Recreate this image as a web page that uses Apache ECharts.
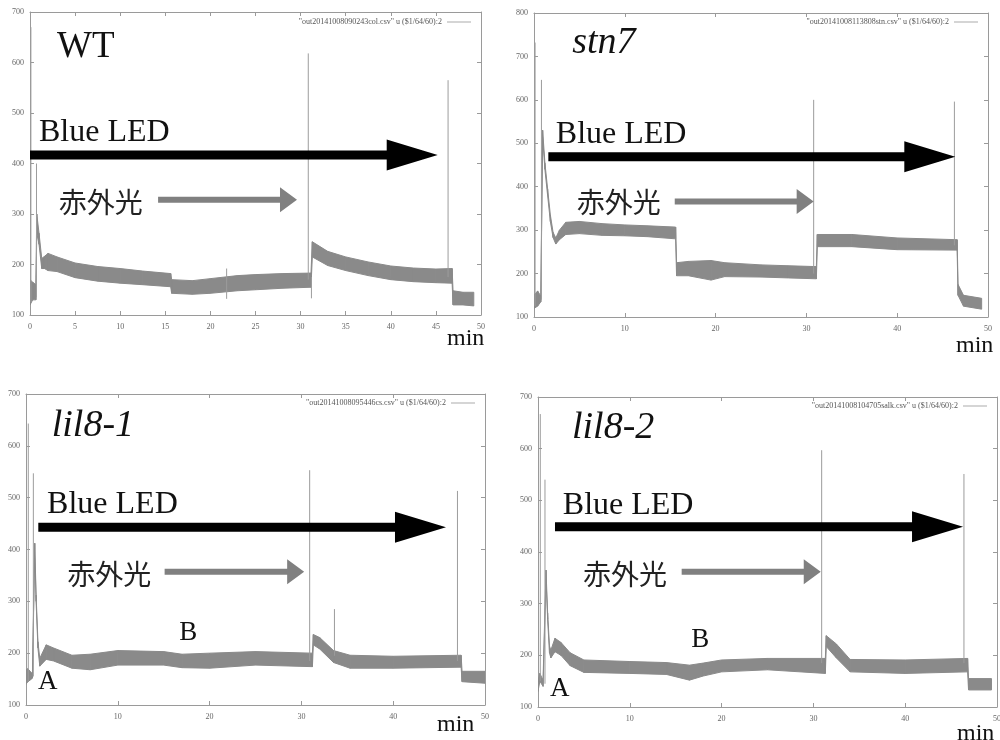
<!DOCTYPE html>
<html>
<head>
<meta charset="utf-8">
<script src="https://cdn.jsdelivr.net/npm/echarts@6/dist/echarts.min.js"></script>
<style>html,body{margin:0;background:#fff}#main{width:1000px;height:740px}</style>
</head>
<body>
<div id="main"></div>
<script>
// signal traces: time (min), lower / upper edge of the noisy band
var wtTime = [0, 0.3, 0.65, 0.75, 1.0, 1.3, 1.6, 2, 3, 5, 7.5, 10, 12.5, 15.6, 15.7, 18, 20, 23, 25, 28, 31.15, 31.3, 33, 35, 37.5, 40, 42.5, 45, 46.8, 46.9, 48, 49.2];
var wtLow  = [120, 130, 130, 262, 240, 192, 192, 188, 186, 174, 167, 163, 160, 156, 143, 141, 143, 148, 150, 153, 155, 215, 198, 188, 178, 170, 166, 164, 163, 120, 120, 118];
var wtHigh = [170, 165, 160, 300, 262, 212, 216, 222, 215, 203, 196, 192, 187, 182, 170, 168, 172, 178, 180, 182, 183, 245, 226, 215, 205, 197, 193, 191, 192, 148, 145, 145];
// [time, from, to] thin vertical spikes
var wtSpikes = [[0.1, 125, 670], [0.72, 135, 400], [21.8, 132, 192], [30.85, 170, 618], [31.2, 133, 175], [46.35, 175, 565]];

var stnTime = [0, 0.4, 0.75, 0.95, 1.2, 1.5, 1.8, 2.1, 2.4, 2.8, 3.5, 5, 7.5, 10, 12.5, 15.6, 15.7, 17, 19.5, 21, 25, 28, 31.1, 31.2, 35, 40, 46.6, 46.7, 47.3, 49.3];
var stnLow  = [120, 125, 135, 515, 440, 380, 320, 283, 268, 278, 290, 292, 288, 287, 285, 280, 195, 195, 185, 193, 192, 190, 188, 262, 262, 255, 254, 150, 125, 118];
var stnHigh = [150, 160, 148, 530, 455, 395, 335, 295, 282, 300, 318, 320, 315, 312, 310, 307, 225, 228, 230, 225, 220, 218, 216, 290, 290, 282, 278, 175, 150, 143];
var stnSpikes = [[0.12, 125, 732], [0.82, 140, 646], [30.8, 200, 600], [46.3, 265, 596]];

var lil1Time = [0, 0.2, 0.6, 0.7, 0.95, 1.1, 1.3, 1.5, 2.2, 3, 5, 7, 10, 15, 17, 20, 25, 31.2, 31.3, 32, 33.5, 35.3, 40, 47.4, 47.5, 50];
var lil1Low  = [140, 145, 150, 152, 400, 300, 210, 175, 188, 185, 171, 168, 177, 177, 172, 171, 177, 174, 216, 208, 182, 171, 171, 173, 145, 142];
var lil1High = [168, 170, 162, 160, 412, 312, 222, 190, 216, 210, 196, 198, 205, 203, 198, 200, 203, 200, 236, 230, 205, 196, 194, 196, 165, 165];
var lil1Spikes = [[0.25, 145, 643], [0.8, 155, 547], [30.9, 185, 553], [33.6, 195, 285], [47.0, 185, 513]];

var lil2Time = [0, 0.2, 0.55, 0.87, 1.05, 1.25, 1.4, 1.85, 2.5, 3.5, 5, 10, 14, 16.5, 18, 20, 25, 31.3, 31.4, 32.5, 34, 40, 46.8, 46.9, 49.4];
var lil2Low  = [130, 150, 140, 350, 270, 205, 195, 207, 200, 180, 167, 165, 163, 152, 160, 168, 172, 165, 217, 195, 168, 165, 168, 133, 133];
var lil2High = [150, 165, 152, 365, 282, 218, 210, 233, 225, 205, 191, 188, 186, 181, 185, 191, 194, 194, 238, 222, 192, 191, 194, 155, 155];
var lil2Spikes = [[0.25, 150, 667], [0.76, 145, 540], [30.9, 185, 597], [46.4, 185, 551]];

var fileNames = [
    '"out20141008090243col.csv" u ($1/64/60):2',
    '"out20141008113808stn.csv" u ($1/64/60):2',
    '"out20141008095446cs.csv" u ($1/64/60):2',
    '"out20141008104705salk.csv" u ($1/64/60):2'
];

var serif = '"Liberation Serif", "DejaVu Serif", serif';
var cjk = '"Noto Sans CJK JP", "Noto Sans CJK SC", sans-serif';
var gray = '#8a8a8a';
var boxColor = '#9a9a9a';

var panels = [
    { title: 'WT', italic: false, time: wtTime, low: wtLow, high: wtHigh, spikes: wtSpikes,
      yMax: 700, xStep: 5, grid: { left: 30, top: 12, width: 451, height: 303 },
      legend: { right: 529, top: 18 }, minOff: [-34, 32],
      blue: [0, 45.2, 417], red: [14.2, 29.6, 328],
      texts: [['Blue LED', 1.0, 441, 'led'], ['赤外光', 3.2, 324, 'ir']], titlePos: [3.0, 607] },
    { title: 'stn7', italic: true, time: stnTime, low: stnLow, high: stnHigh, spikes: stnSpikes,
      yMax: 800, xStep: 10, grid: { left: 534, top: 13, width: 454, height: 304 },
      legend: { right: 22, top: 18 }, minOff: [-32, 37],
      blue: [1.58, 46.4, 469], red: [15.5, 30.8, 366],
      texts: [['Blue LED', 2.4, 496, 'led'], ['赤外光', 4.7, 363, 'ir']], titlePos: [4.2, 704] },
    { title: 'lil8-1', italic: true, time: lil1Time, low: lil1Low, high: lil1High, spikes: lil1Spikes,
      yMax: 700, xStep: 10, grid: { left: 26, top: 394, width: 459, height: 311 },
      legend: { right: 525, top: 399 }, minOff: [-48, 28],
      blue: [1.34, 45.75, 443], red: [15.1, 30.3, 357],
      texts: [['Blue LED', 2.3, 467, 'led'], ['赤外光', 4.5, 353, 'ir'], ['A', 1.3, 127, 'ab'], ['B', 16.7, 222, 'ab']],
      titlePos: [2.8, 615] },
    { title: 'lil8-2', italic: true, time: lil2Time, low: lil2Low, high: lil2High, spikes: lil2Spikes,
      yMax: 700, xStep: 10, grid: { left: 538, top: 397, width: 459, height: 310 },
      legend: { right: 13, top: 402 }, minOff: [-40, 35],
      blue: [1.85, 46.3, 449], red: [15.65, 30.8, 362],
      texts: [['Blue LED', 2.7, 471, 'led'], ['赤外光', 4.9, 357, 'ir'], ['A', 1.3, 117, 'ab'], ['B', 16.7, 212, 'ab']],
      titlePos: [3.7, 616] }
];

var chart = echarts.init(document.getElementById('main'));

// band between low and high edges, one quad per pair of neighbouring samples
function bandRenderer(p) {
    return function (params, api) {
        var k = params.dataIndex;
        if (k >= p.time.length - 1) return null;
        var a = api.coord([p.time[k], p.low[k]]);
        var b = api.coord([p.time[k + 1], p.low[k + 1]]);
        var c = api.coord([p.time[k + 1], p.high[k + 1]]);
        var d = api.coord([p.time[k], p.high[k]]);
        return {
            type: 'polygon',
            shape: { points: [a, b, c, d] },
            style: { fill: gray, stroke: gray, lineWidth: 1 }
        };
    };
}

var grids = [], xAxes = [], yAxes = [], series = [], legends = [];
panels.forEach(function (p, i) {
    grids.push(Object.assign({ containLabel: false, outerBoundsMode: 'none' }, p.grid));
    var tick = { show: true, inside: true, length: 4, lineStyle: { color: boxColor } };
    var line = { show: true, onZero: false, lineStyle: { color: boxColor, width: 1 } };
    var label = { fontSize: 8, fontFamily: serif, color: '#666', margin: 8 };
    // bottom + mirrored top x axis
    xAxes.push({ gridIndex: i, type: 'value', min: 0, max: 50, interval: p.xStep, position: 'bottom',
        axisLine: line, axisTick: tick, splitLine: { show: false }, axisLabel: label });
    xAxes.push({ gridIndex: i, type: 'value', min: 0, max: 50, interval: p.xStep, position: 'top',
        axisLine: line, axisTick: tick, splitLine: { show: false }, axisLabel: { show: false } });
    // left + mirrored right y axis
    yAxes.push({ gridIndex: i, type: 'value', min: 100, max: p.yMax, interval: 100, position: 'left',
        axisLine: line, axisTick: tick, splitLine: { show: false }, axisLabel: Object.assign({}, label, { margin: 6 }) });
    yAxes.push({ gridIndex: i, type: 'value', min: 100, max: p.yMax, interval: 100, position: 'right',
        axisLine: line, axisTick: tick, splitLine: { show: false }, axisLabel: { show: false } });

    series.push({
        type: 'custom', name: fileNames[i], xAxisIndex: i * 2, yAxisIndex: i * 2,
        silent: true, z: 2, clip: true,
        itemStyle: { color: gray },
        renderItem: bandRenderer(p),
        encode: { x: 0, y: [1, 2] },
        data: p.time.map(function (t, k) { return [t, p.low[k], p.high[k]]; })
    });
    var spikeData = [];
    p.spikes.forEach(function (s) {
        spikeData.push([s[0], s[1]], [s[0], s[2]], [s[0], '-']);
    });
    series.push({
        type: 'line', name: 'spike' + i, xAxisIndex: i * 2, yAxisIndex: i * 2,
        symbol: 'none', silent: true, z: 3, connectNulls: false,
        lineStyle: { width: 1, color: '#9c9c9c' },
        data: spikeData
    });

    legends.push({
        data: [fileNames[i]], right: p.legend.right, top: p.legend.top, align: 'right',
        icon: 'rect', itemWidth: 24, itemHeight: 1, padding: 0, selectedMode: false,
        itemStyle: { color: '#aaa' },
        textStyle: { fontSize: 8, fontFamily: serif, color: '#555' }
    });
});

chart.setOption({
    animation: false,
    backgroundColor: '#fff',
    grid: grids,
    xAxis: xAxes,
    yAxis: yAxes,
    legend: legends,
    series: series
});

// annotations: arrows and labels placed from data coordinates
function px(i, t, v) {
    return chart.convertToPixel({ xAxisIndex: i * 2, yAxisIndex: i * 2 }, [t, v]);
}
function arrow(i, a, shaft, headH, headL, color) {
    var s = px(i, a[0], a[2]), e = px(i, a[1], a[2]);
    var y = s[1], xb = e[0] - headL;
    return {
        type: 'polygon', silent: true, z: 10,
        shape: { points: [
            [s[0], y - shaft / 2], [xb, y - shaft / 2], [xb, y - headH / 2], [e[0], y],
            [xb, y + headH / 2], [xb, y + shaft / 2], [s[0], y + shaft / 2]
        ] },
        style: { fill: color }
    };
}
function text(x, y, str, size, family, italic, color) {
    return {
        type: 'text', silent: true, z: 11, x: x, y: y,
        style: { text: str, fontSize: size, fontFamily: family, fontStyle: italic ? 'italic' : 'normal',
            fill: color || '#111', align: 'left', verticalAlign: 'middle' }
    };
}

var graphics = [];
panels.forEach(function (p, i) {
    graphics.push(arrow(i, p.blue, 9, 31, 51, '#000'));
    graphics.push(arrow(i, p.red, 6, 25, 17, '#808080'));
    var tp = px(i, p.titlePos[0], p.titlePos[1]);
    graphics.push(text(tp[0], tp[1] - 12, p.title, p.italic ? 38 : 37, serif, p.italic));
    p.texts.forEach(function (tx) {
        var q = px(i, tx[1], tx[2]);
        if (tx[3] === 'led') graphics.push(text(q[0], q[1] - 10, tx[0], 32, serif, false));
        else if (tx[3] === 'ir') graphics.push(text(q[0], q[1], tx[0], 28, cjk, false, '#222'));
        else graphics.push(text(q[0], q[1] - 9, tx[0], 27, serif, false));
    });
    var g = p.grid;
    graphics.push(text(g.left + g.width + p.minOff[0], g.top + g.height + p.minOff[1] - 8, 'min', 24, serif, false));
});
chart.setOption({ graphic: graphics });
</script>
</body>
</html>
